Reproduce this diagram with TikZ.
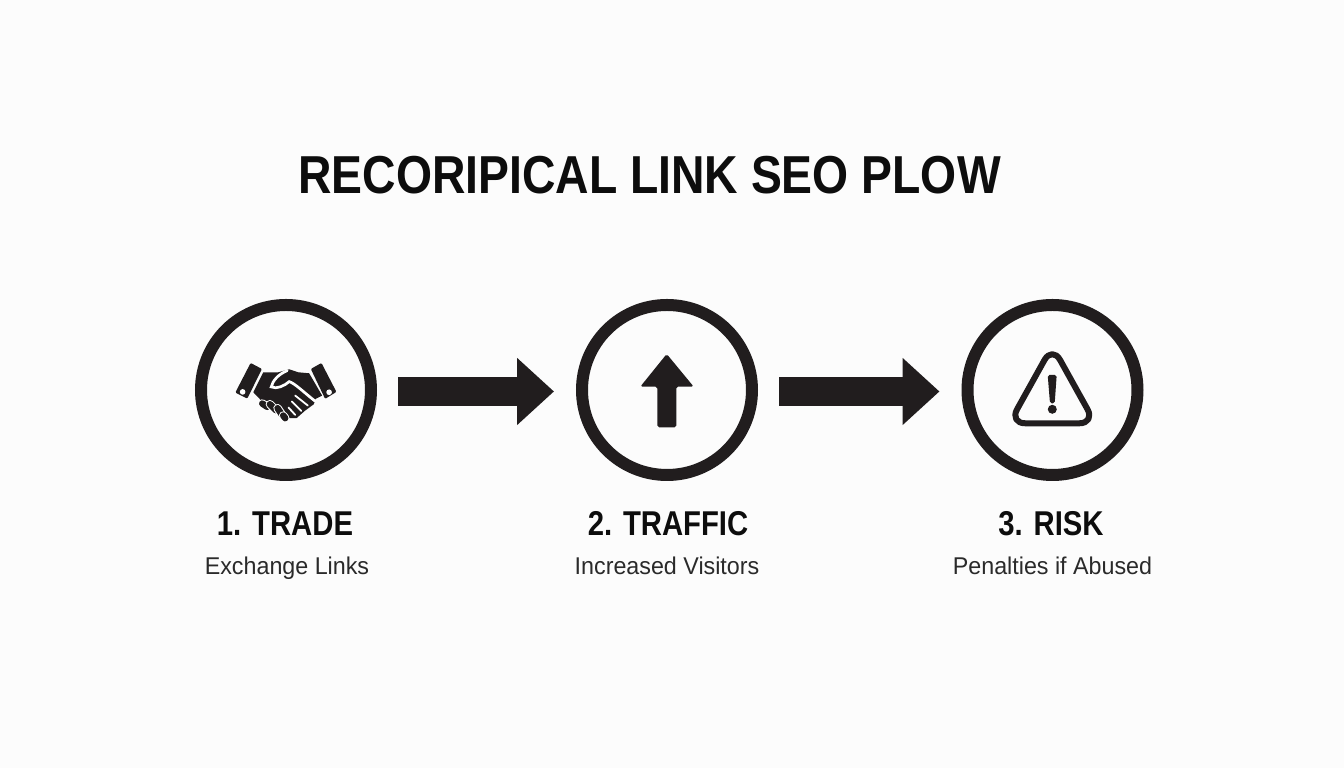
\documentclass[tikz,border=0pt]{standalone}
\usepackage{fontspec}
\setmainfont{Liberation Sans}
\newfontfamily\titlefont[FakeStretch=0.867]{Liberation Sans}
\newfontfamily\headfont[FakeStretch=0.85]{Liberation Sans}
\newfontfamily\subfont[FakeStretch=0.96]{Liberation Sans}
\usetikzlibrary{arrows.meta}
\definecolor{inkdark}{HTML}{211D1E}
\definecolor{textdark}{HTML}{0D0D0D}
\definecolor{textsoft}{HTML}{2A2A2A}
\tikzset{
  stepcircle/.style={draw=inkdark, circle, line width=0.12cm, minimum size=1.70cm, inner sep=0pt},
  flowarrow/.style={draw=inkdark, line width=0.29cm, -{Triangle[length=0.37cm,width=0.65cm]}, shorten <=0.21cm, shorten >=0.22cm},
  titlelabel/.style={anchor=base, text=textdark, inner sep=0pt, font=\fontsize{15.2}{18}\titlefont\bfseries},
  headlabel/.style={anchor=base, text=textdark, inner sep=0pt, font=\fontsize{9.8}{12}\headfont\bfseries},
  sublabel/.style={anchor=base, text=textsoft, inner sep=0pt, font=\fontsize{6.9}{9}\subfont},
  icon/.style={fill=inkdark},
  gap/.style={draw=white, line cap=round}
}
\begin{document}
\begin{tikzpicture}
\useasboundingbox (0,0) rectangle (13.44,7.68);
\fill[white!99!black] (0,0) rectangle (13.44,7.68);

\node[titlelabel] (title) at (6.495,5.74) {RECORIPICAL LINK SEO PLOW};

\node[stepcircle] (trade) at (2.86,3.78) {};
\node[stepcircle] (traffic) at (6.67,3.78) {};
\node[stepcircle] (risk) at (10.525,3.78) {};

\path[flowarrow] ([yshift=-0.015cm]trade.east) -- ([yshift=-0.015cm]traffic.west);
\path[flowarrow] ([yshift=-0.015cm]traffic.east) -- ([yshift=-0.015cm]risk.west);

\node[headlabel] (tradehead) at (2.85,2.32) {1. TRADE};
\node[headlabel] (traffichead) at (6.68,2.32) {2. TRAFFIC};
\node[headlabel] (riskhead) at (10.51,2.32) {3. RISK};
\node[sublabel] (tradesub) at (2.87,1.93) {Exchange Links};
\node[sublabel] (trafficsub) at (6.67,1.93) {Increased Visitors};
\node[sublabel] (risksub) at (10.525,1.93) {Penalties if Abused};

\begin{scope}[shift={(2.30,4.13)}, x=0.00333cm, y=-0.00333cm]
\fill[icon, rounded corners=0.3pt] (62,24) -- (96,42) -- (52,131) -- (16,113) -- cycle;
\fill[icon, rounded corners=0.3pt] (243,42) -- (275,24) -- (320,111) -- (286,132) -- cycle;
\fill[white] (38,111) circle (8.5);
\fill[white] (298,112) circle (8.5);
\fill[icon] (100,52) -- (145,52) -- (178,43) -- (205,52) -- (238,55) -- (277,122) -- (257,132)
  -- (252,148) -- (225,168) -- (200,190) -- (180,190) -- (150,155) -- (120,140) -- (92,135) -- (70,112) -- cycle;
\draw[gap, line width=0.027cm] (172,47) .. controls (145,58) and (128,78) .. (124,96)
  .. controls (140,104) and (165,92) .. (178,80) .. controls (195,85) and (225,115) .. (255,138);
\draw[gap, line width=0.018cm] (196,122) -- (234,152);
\draw[gap, line width=0.018cm] (186,140) -- (214,168);
\draw[gap, line width=0.018cm] (176,158) -- (196,180);
\foreach \xa/\ya/\xb/\yb in {97/146/112/156, 120/148/138/166, 143/160/155/178, 160/182/166/190} {
  \draw[gap, line width=0.085cm] (\xa,\ya) -- (\xb,\yb);
  \draw[draw=inkdark, line cap=round, line width=0.065cm] (\xa,\ya) -- (\xb,\yb);
}
\end{scope}

\fill[icon, rounded corners=0.5pt] (6.667,4.14) -- (6.937,3.813) -- (6.763,3.813) -- (6.763,3.407) -- (6.573,3.407) -- (6.573,3.813) -- (6.403,3.813) -- cycle;

\draw[draw=inkdark, line width=0.06cm, rounded corners=0.16cm, line join=round] (10.523,4.22) -- (10.953,3.447) -- (10.093,3.447) -- cycle;
\fill[icon, rounded corners=0.5pt] (10.477,3.93) -- (10.567,3.93) -- (10.547,3.647) -- (10.50,3.647) -- cycle;
\fill[icon] (10.523,3.587) circle (0.045);
\end{tikzpicture}
\end{document}
